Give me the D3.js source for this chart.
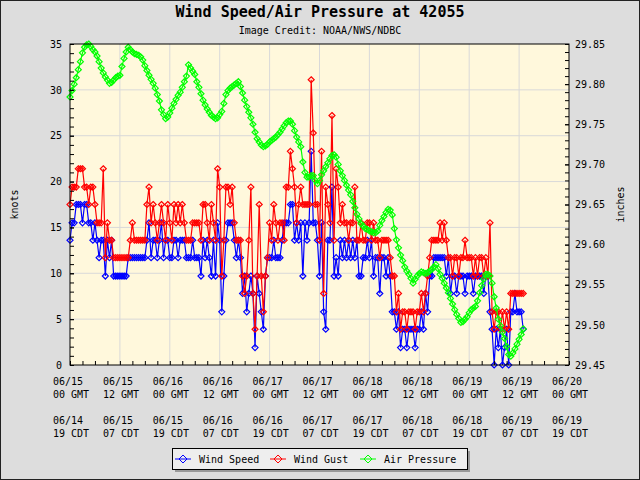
<!DOCTYPE html>
<html>
<head>
<meta charset="utf-8">
<script src="https://cdn.jsdelivr.net/npm/d3@7"></script>
<style>
    body { margin: 0; background: #dddddd; }
    svg { display: block; font-family: "DejaVu Sans Mono", monospace; }
</style>
</head>
<body>
<div id="chart"></div>
<script>
// observations every 30 minutes from 06/15 00 GMT (hours since start)
const stepHours = 0.5;

// wind speed, knots
const windSpeed = [
    13.6, 15.5, 15.5, 17.5, 17.5, 17.5, 15.5, 17.5, 17.5, 15.5,
    15.5, 13.6, 15.5, 13.6, 11.7, 13.6, 13.6, 9.7, 13.6, 11.7,
    13.6, 9.7, 9.7, 9.7, 9.7, 9.7, 9.7, 9.7, 11.7, 11.7,
    11.7, 11.7, 11.7, 11.7, 11.7, 11.7, 11.7, 13.6, 15.5, 11.7,
    13.6, 13.6, 11.7, 13.6, 15.5, 11.7, 13.6, 13.6, 11.7, 11.7,
    13.6, 13.6, 11.7, 13.6, 13.6, 13.6, 11.7, 11.7, 11.7, 13.6,
    11.7, 11.7, 11.7, 9.7, 13.6, 11.7, 13.6, 11.7, 9.7, 13.6,
    9.7, 15.5, 13.6, 5.8, 9.7, 13.6, 15.5, 15.5, 15.5, 13.6,
    11.7, 13.6, 11.7, 7.8, 9.7, 5.8, 7.8, 9.7, 7.8, 1.9,
    9.7, 7.8, 5.8, 3.9, 9.7, 11.7, 11.7, 11.7, 13.6, 11.7,
    11.7, 11.7, 13.6, 15.5, 15.5, 15.5, 17.5, 17.5, 13.6, 15.5,
    13.6, 15.5, 9.7, 15.5, 13.6, 15.5, 23.3, 15.5, 15.5, 13.6,
    9.7, 15.5, 5.8, 3.9, 13.6, 13.6, 19.4, 9.7, 11.7, 9.7,
    13.6, 11.7, 13.6, 11.7, 13.6, 11.7, 13.6, 11.7, 13.6, 9.7,
    9.7, 11.7, 11.7, 13.6, 11.7, 13.6, 9.7, 11.7, 11.7, 7.8,
    11.7, 11.7, 9.7, 11.7, 9.7, 5.8, 5.8, 3.9, 5.8, 1.9,
    3.9, 3.9, 1.9, 3.9, 3.9, 3.9, 1.9, 3.9, 3.9, 5.8,
    3.9, 7.8, 5.8, 9.7, 9.7, 11.7, 11.7, 11.7, 11.7, 11.7,
    11.7, 9.7, 11.7, 7.8, 9.7, 9.7, 7.8, 9.7, 9.7, 9.7,
    7.8, 9.7, 9.7, 9.7, 7.8, 9.7, 9.7, 9.7, 9.7, 7.8,
    9.7, 9.7, 5.8, 3.9, 0, 3.9, 1.9, 3.9, 0, 1.9,
    3.9, 0, 5.8, 5.8, 7.8, 5.8, 5.8, 5.8, 3.9
];

// wind gust, knots
const windGust = [
    17.5, 19.4, 19.4, 19.4, 21.4, 21.4, 21.4, 19.4, 19.4, 17.5,
    19.4, 19.4, 17.5, 15.5, 15.5, 15.5, 21.4, 11.7, 15.5, 13.6,
    13.6, 11.7, 11.7, 11.7, 11.7, 11.7, 11.7, 11.7, 11.7, 13.6,
    15.5, 13.6, 13.6, 13.6, 13.6, 13.6, 13.6, 17.5, 19.4, 15.5,
    17.5, 15.5, 13.6, 15.5, 17.5, 15.5, 13.6, 17.5, 15.5, 13.6,
    17.5, 15.5, 17.5, 15.5, 17.5, 15.5, 13.6, 13.6, 13.6, 15.5,
    15.5, 15.5, 15.5, 13.6, 17.5, 17.5, 15.5, 13.6, 17.5, 15.5,
    13.6, 21.4, 19.4, 9.7, 13.6, 19.4, 19.4, 17.5, 19.4, 15.5,
    13.6, 13.6, 13.6, 9.7, 7.8, 9.7, 13.6, 19.4, 7.8, 3.9,
    9.7, 17.5, 9.7, 5.8, 9.7, 11.7, 15.5, 13.6, 17.5, 15.5,
    13.6, 15.5, 15.5, 13.6, 19.4, 19.4, 23.3, 21.4, 19.4, 15.5,
    17.5, 19.4, 17.5, 17.5, 17.5, 17.5, 31.1, 25.3, 17.5, 17.5,
    13.6, 23.3, 7.8, 19.4, 17.5, 15.5, 27.2, 13.6, 21.4, 19.4,
    15.5, 17.5, 15.5, 15.5, 13.6, 15.5, 15.5, 19.4, 13.6, 13.6,
    15.5, 13.6, 13.6, 15.5, 15.5, 13.6, 15.5, 13.6, 13.6, 11.7,
    13.6, 13.6, 13.6, 13.6, 11.7, 9.7, 9.7, 5.8, 7.8, 3.9,
    5.8, 5.8, 3.9, 5.8, 5.8, 5.8, 3.9, 5.8, 5.8, 7.8,
    5.8, 7.8, 9.7, 11.7, 13.6, 13.6, 13.6, 13.6, 15.5, 13.6,
    15.5, 13.6, 11.7, 11.7, 9.7, 11.7, 11.7, 9.7, 11.7, 11.7,
    13.6, 11.7, 11.7, 11.7, 9.7, 11.7, 9.7, 11.7, 11.7, 9.7,
    11.7, 9.7, 15.5, 5.8, 3.9, 5.8, 5.8, 3.9, 5.8, 3.9,
    5.8, 3.9, 7.8, 7.8, 7.8, 7.8, 7.8, 7.8, 7.8
];

// air pressure, inches
const airPressure = [
    29.784, 29.792, 29.800, 29.808, 29.818, 29.828, 29.839, 29.846, 29.849, 29.850,
    29.847, 29.843, 29.840, 29.835, 29.828, 29.820, 29.814, 29.809, 29.805, 29.801,
    29.802, 29.805, 29.808, 29.810, 29.811, 29.822, 29.832, 29.840, 29.846, 29.843,
    29.840, 29.838, 29.837, 29.836, 29.834, 29.830, 29.823, 29.817, 29.811, 29.806,
    29.801, 29.795, 29.787, 29.779, 29.768, 29.762, 29.757, 29.759, 29.764, 29.770,
    29.776, 29.781, 29.786, 29.790, 29.796, 29.803, 29.810, 29.824, 29.820, 29.816,
    29.812, 29.803, 29.796, 29.788, 29.780, 29.774, 29.769, 29.765, 29.761, 29.759,
    29.757, 29.758, 29.762, 29.766, 29.776, 29.787, 29.792, 29.795, 29.797, 29.799,
    29.801, 29.803, 29.797, 29.789, 29.780, 29.772, 29.765, 29.758, 29.750, 29.740,
    29.732, 29.728, 29.724, 29.722, 29.723, 29.725, 29.728, 29.730, 29.732, 29.734,
    29.737, 29.740, 29.744, 29.748, 29.752, 29.754, 29.754, 29.750, 29.742, 29.734,
    29.728, 29.722, 29.703, 29.690, 29.684, 29.684, 29.686, 29.686, 29.680, 29.676,
    29.680, 29.687, 29.692, 29.697, 29.702, 29.707, 29.711, 29.712, 29.709, 29.700,
    29.692, 29.686, 29.680, 29.674, 29.668, 29.662, 29.654, 29.646, 29.638, 29.632,
    29.626, 29.623, 29.620, 29.619, 29.617, 29.616, 29.615, 29.615, 29.617, 29.624,
    29.630, 29.635, 29.640, 29.644, 29.643, 29.637, 29.620, 29.606, 29.596, 29.587,
    29.580, 29.572, 29.567, 29.563, 29.558, 29.552, 29.557, 29.561, 29.564, 29.566,
    29.565, 29.564, 29.565, 29.567, 29.569, 29.572, 29.575, 29.570, 29.563, 29.558,
    29.552, 29.546, 29.540, 29.533, 29.526, 29.519, 29.513, 29.508, 29.503, 29.504,
    29.507, 29.510, 29.515, 29.519, 29.521, 29.523, 29.530, 29.540, 29.549, 29.557,
    29.563, 29.563, 29.561, 29.552, 29.535, 29.521, 29.507, 29.499, 29.491, 29.483,
    29.473, 29.463, 29.461, 29.465, 29.470, 29.476, 29.482, 29.488, 29.495
];

// x tick labels, one per 12 h
const gmtDates = ["06/15", "06/15", "06/16", "06/16", "06/17", "06/17", "06/18", "06/18", "06/19", "06/19", "06/20"];
const gmtHours = ["00 GMT", "12 GMT", "00 GMT", "12 GMT", "00 GMT", "12 GMT", "00 GMT", "12 GMT", "00 GMT", "12 GMT", "00 GMT"];
const cdtDates = ["06/14", "06/15", "06/15", "06/16", "06/16", "06/17", "06/17", "06/18", "06/18", "06/19", "06/19"];
const cdtHours = ["19 CDT", "07 CDT", "19 CDT", "07 CDT", "19 CDT", "07 CDT", "19 CDT", "07 CDT", "19 CDT", "07 CDT", "19 CDT"];

const seriesNames = ["Wind Speed", "Wind Gust", "Air Pressure"];
const seriesColors = ["#0000ff", "#ff0000", "#00ff00"];

const W = 640, H = 480;
const margin = {top: 44, right: 71, bottom: 115, left: 70};
const width = W - margin.left - margin.right,
      height = H - margin.top - margin.bottom;

const svg = d3.select("#chart")
    .append("svg")
    .attr("width", W)
    .attr("height", H);

svg.append("rect")
    .attr("x", 0.5).attr("y", 0.5)
    .attr("width", W - 1).attr("height", H - 1)
    .attr("fill", "#dddddd")
    .attr("stroke", "#222");

svg.append("text")
    .attr("x", W / 2).attr("y", 17)
    .attr("text-anchor", "middle")
    .style("font-size", "15px")
    .style("font-weight", "bold")
    .text("Wind Speed/Air Pressure at 42055");

svg.append("text")
    .attr("x", W / 2).attr("y", 34)
    .attr("text-anchor", "middle")
    .style("font-size", "10px")
    .text("Image Credit: NOAA/NWS/NDBC");

let g = svg.append("g")
    .attr("transform", "translate(" + margin.left + "," + margin.top + ")");

let x = d3.scaleLinear().domain([0, 120]).range([0, width]);
let yKnots = d3.scaleLinear().domain([0, 35]).range([height, 0]);
let yInches = d3.scaleLinear().domain([29.45, 29.85]).range([height, 0]);

g.append("rect")
    .attr("width", width)
    .attr("height", height)
    .attr("fill", "#fff8dc");

// grid
g.append("g")
    .selectAll("line")
    .data(d3.range(12, 120, 12))
    .join("line")
    .attr("x1", d => x(d)).attr("x2", d => x(d))
    .attr("y1", 0).attr("y2", height)
    .attr("stroke", "#d9d9d9");

g.append("g")
    .selectAll("line")
    .data(d3.range(5, 35, 5))
    .join("line")
    .attr("x1", 0).attr("x2", width)
    .attr("y1", d => yKnots(d)).attr("y2", d => yKnots(d))
    .attr("stroke", "#d9d9d9");

function drawSeries(values, yScale, color) {
    /**
     * Draw one series as a line with open diamond markers
     *
     * @param {array} values - observations, one every stepHours
     * @param {function} yScale - scale for this series
     * @param {string} color - stroke colour
     */
    let pts = values.map((v, i) => [i * stepHours, v]);

    let line = d3.line()
        .x(d => x(d[0]))
        .y(d => yScale(d[1]));

    g.append("path")
        .datum(pts)
        .attr("fill", "none")
        .attr("stroke", color)
        .attr("stroke-width", 1.2)
        .attr("d", line);

    g.append("g")
        .selectAll("path")
        .data(pts)
        .join("path")
        .attr("transform", d => "translate(" + x(d[0]) + "," + yScale(d[1]) + ")")
        .attr("d", "M0,-3L3,0L0,3L-3,0Z")
        .attr("fill", "none")
        .attr("stroke", color)
        .attr("stroke-width", 1.2);
}

drawSeries(windSpeed, yKnots, seriesColors[0]);
drawSeries(windGust, yKnots, seriesColors[1]);
drawSeries(airPressure, yInches, seriesColors[2]);

// axes, ticks point inward
g.append("g")
    .call(d3.axisLeft(yKnots).tickValues(d3.range(0, 36, 1)).tickSize(-4).tickFormat(""));
g.append("g")
    .call(d3.axisLeft(yKnots).tickValues(d3.range(0, 36, 5)).tickSize(-4).tickPadding(8));

g.append("g")
    .attr("transform", "translate(" + width + ",0)")
    .call(d3.axisRight(yInches).tickValues(d3.range(0, 41).map(i => 29.45 + i * 0.01)).tickSize(-4).tickFormat(""));
g.append("g")
    .attr("transform", "translate(" + width + ",0)")
    .call(d3.axisRight(yInches).tickValues(d3.range(0, 9).map(i => 29.45 + i * 0.05)).tickSize(-4).tickPadding(6)
        .tickFormat(d3.format(".2f")));

g.append("g")
    .attr("transform", "translate(0," + height + ")")
    .call(d3.axisBottom(x).tickValues(d3.range(0, 121, 3)).tickSize(-4).tickFormat(""));

g.selectAll(".domain").attr("stroke", "none");
g.selectAll(".tick line").attr("stroke", "#000");
g.selectAll(".tick text")
    .attr("fill", "#000")
    .style("font-family", "DejaVu Sans Mono, monospace")
    .style("font-size", "10px");

g.append("rect")
    .attr("width", width)
    .attr("height", height)
    .attr("fill", "none")
    .attr("stroke", "#000");

// x labels in GMT and CDT
let labelRows = [[gmtDates, 341], [gmtHours, 354], [cdtDates, 380], [cdtHours, 393]];
labelRows.forEach(function (row) {
    g.append("g")
        .selectAll("text")
        .data(row[0])
        .join("text")
        .attr("x", (d, i) => x(i * 12) - 17)
        .attr("y", row[1])
        .style("font-size", "10px")
        .text(d => d);
});

svg.append("text")
    .attr("transform", "translate(18," + (margin.top + height / 2) + ") rotate(-90)")
    .attr("text-anchor", "middle")
    .style("font-size", "10px")
    .text("knots");

svg.append("text")
    .attr("transform", "translate(624," + (margin.top + height / 2) + ") rotate(-90)")
    .attr("text-anchor", "middle")
    .style("font-size", "10px")
    .text("inches");

// legend
let legend = svg.append("g").attr("transform", "translate(172,448)");

legend.append("rect")
    .attr("x", 3).attr("y", 3)
    .attr("width", 295).attr("height", 21)
    .attr("fill", "#999");
legend.append("rect")
    .attr("x", 0.5).attr("y", 0.5)
    .attr("width", 295).attr("height", 21)
    .attr("fill", "#eeeeee")
    .attr("stroke", "#000");

let legendX = [3, 98, 188];
seriesNames.forEach(function (name, i) {
    let item = legend.append("g").attr("transform", "translate(" + legendX[i] + ",11)");
    item.append("line")
        .attr("x1", 0).attr("x2", 16)
        .attr("stroke", seriesColors[i]);
    item.append("path")
        .attr("transform", "translate(8,0)")
        .attr("d", "M0,-4L4,0L0,4L-4,0Z")
        .attr("fill", "none")
        .attr("stroke", seriesColors[i]);
    item.append("text")
        .attr("x", 24).attr("y", 4)
        .style("font-size", "10px")
        .text(name);
});
</script>
</body>
</html>
